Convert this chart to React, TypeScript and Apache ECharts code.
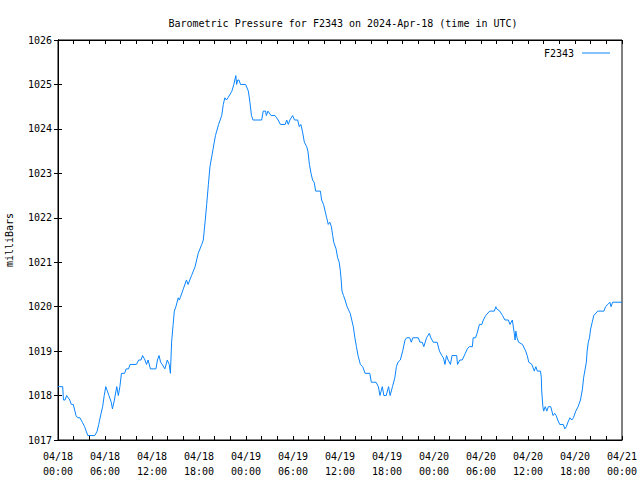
import React, { useEffect, useRef } from "react";
import * as echarts from "echarts";

// hours since 2024-04-18 00:00 UTC
const hours = [
  0.0, 0.6, 0.7, 0.9, 1.1, 1.5, 1.7, 1.95, 2.3, 2.5, 2.8, 3.1, 3.4, 3.6, 3.8, 4.7, 5.0, 5.2, 5.5, 5.7,
  5.9, 6.1, 6.3, 6.5, 6.8, 6.95, 7.2, 7.5, 7.7, 7.9, 8.1, 8.5, 8.7, 9.0, 9.2, 10.0, 10.3, 10.6, 10.8, 11.1,
  11.3, 11.5, 11.8, 12.5, 12.7, 12.9, 13.1, 13.3, 13.65, 13.95, 14.2, 14.35, 14.5, 14.7, 14.85, 15.05, 15.35, 15.5, 15.6, 16.0,
  16.4, 16.6, 17.05, 17.5, 17.9, 18.35, 18.55, 18.8, 18.98, 19.2, 19.4, 19.8, 20.1, 20.5, 20.9, 21.1, 21.3, 21.5, 21.7, 22.2,
  22.45, 22.7, 22.8, 22.95, 23.1, 23.3, 23.95, 24.3, 24.5, 24.7, 24.9, 26.0, 26.2, 26.5, 26.6, 26.8, 27.2, 27.7, 28.1, 28.4,
  29.0, 29.2, 29.4, 29.6, 29.95, 30.2, 30.6, 30.8, 31.0, 31.2, 31.45, 31.75, 31.9, 32.1, 32.3, 32.5, 32.7, 32.9, 33.5, 33.65,
  33.9, 34.1, 34.3, 34.5, 34.7, 34.9, 35.07, 35.2, 35.5, 35.7, 35.9, 36.05, 36.15, 36.25, 36.45, 36.65, 36.9, 37.3, 37.5, 37.7,
  37.9, 38.1, 38.3, 38.6, 38.9, 39.2, 39.8, 40.0, 40.6, 40.9, 41.1, 41.4, 41.6, 41.9, 42.2, 42.4, 42.7, 43.0, 43.2, 43.4,
  43.7, 44.0, 44.3, 44.5, 44.9, 45.1, 45.3, 46.0, 46.2, 46.5, 46.7, 47.05, 47.4, 47.6, 47.9, 48.4, 48.7, 49.0, 49.2, 49.4,
  49.6, 49.8, 50.1, 50.3, 50.9, 51.0, 51.3, 51.6, 52.0, 52.25, 52.5, 52.9, 53.0, 53.3, 53.5, 53.8, 54.1, 54.3, 54.6, 55.1,
  55.7, 55.9, 56.0, 56.4, 56.75, 57.05, 57.5, 57.7, 58.0, 58.25, 58.35, 58.45, 58.6, 58.8, 59.3, 59.7, 59.9, 60.1, 60.5, 60.8,
  61.0, 61.2, 61.6, 61.7, 61.75, 61.9, 62.0, 62.2, 62.4, 62.6, 62.9, 63.2, 63.4, 63.6, 63.8, 64.05, 64.5, 64.7, 64.9, 65.1,
  65.35, 65.6, 65.8, 66.1, 66.4, 66.7, 66.95, 67.1, 67.3, 67.45, 67.55, 67.7, 67.85, 68.0, 68.2, 68.4, 68.9, 69.7, 69.9, 70.2,
  70.45, 70.6, 70.8, 72.0,
];

const pressure = [
  1018.2, 1018.2, 1017.9, 1017.9, 1018.0, 1017.9, 1017.8, 1017.8, 1017.55, 1017.5, 1017.5, 1017.4, 1017.3, 1017.2, 1017.1, 1017.1, 1017.2, 1017.35, 1017.6, 1017.75,
  1018.0, 1018.2, 1018.1, 1018.0, 1017.85, 1017.7, 1017.9, 1018.2, 1018.0, 1018.2, 1018.5, 1018.5, 1018.6, 1018.6, 1018.7, 1018.7, 1018.8, 1018.8, 1018.9, 1018.8,
  1018.7, 1018.8, 1018.6, 1018.6, 1018.8, 1018.9, 1018.75, 1018.7, 1018.6, 1018.8, 1018.7, 1018.5, 1019.2, 1019.6, 1019.9, 1020.0, 1020.2, 1020.15, 1020.2, 1020.4,
  1020.6, 1020.5, 1020.7, 1020.9, 1021.2, 1021.4, 1021.5, 1021.95, 1022.3, 1022.75, 1023.15, 1023.55, 1023.85, 1024.1, 1024.3, 1024.55, 1024.7, 1024.65, 1024.7, 1024.85,
  1025.0, 1025.2, 1025.0, 1025.1, 1025.1, 1025.0, 1025.0, 1024.85, 1024.6, 1024.3, 1024.2, 1024.2, 1024.4, 1024.4, 1024.3, 1024.4, 1024.3, 1024.3, 1024.2, 1024.1,
  1024.1, 1024.2, 1024.1, 1024.2, 1024.3, 1024.2, 1024.2, 1024.05, 1024.1, 1023.95, 1023.7, 1023.6, 1023.5, 1023.2, 1023.0, 1022.85, 1022.8, 1022.6, 1022.6, 1022.4,
  1022.3, 1022.15, 1022.0, 1021.85, 1021.9, 1021.8, 1021.6, 1021.45, 1021.3, 1021.1, 1021.0, 1020.8, 1020.6, 1020.35, 1020.25, 1020.15, 1020.0, 1019.85, 1019.7, 1019.55,
  1019.3, 1019.1, 1018.9, 1018.7, 1018.65, 1018.5, 1018.5, 1018.3, 1018.3, 1018.2, 1018.0, 1018.2, 1018.0, 1018.0, 1018.2, 1018.0, 1018.2, 1018.4, 1018.65, 1018.75,
  1018.8, 1019.0, 1019.25, 1019.3, 1019.3, 1019.2, 1019.3, 1019.3, 1019.2, 1019.2, 1019.1, 1019.3, 1019.4, 1019.3, 1019.2, 1019.2, 1019.0, 1018.9, 1018.85, 1018.7,
  1018.9, 1018.8, 1018.7, 1018.9, 1018.9, 1018.7, 1018.8, 1018.8, 1018.95, 1019.05, 1019.1, 1019.1, 1019.3, 1019.3, 1019.4, 1019.6, 1019.6, 1019.7, 1019.8, 1019.9,
  1019.9, 1020.0, 1019.95, 1019.9, 1019.8, 1019.7, 1019.7, 1019.6, 1019.7, 1019.4, 1019.25, 1019.45, 1019.3, 1019.2, 1019.15, 1019.0, 1018.9, 1018.75, 1018.7, 1018.55,
  1018.65, 1018.55, 1018.55, 1018.4, 1018.1, 1017.75, 1017.65, 1017.75, 1017.65, 1017.75, 1017.75, 1017.55, 1017.6, 1017.55, 1017.45, 1017.35, 1017.35, 1017.25, 1017.3, 1017.4,
  1017.5, 1017.45, 1017.5, 1017.65, 1017.75, 1017.9, 1018.15, 1018.4, 1018.6, 1018.75, 1019.0, 1019.2, 1019.3, 1019.5, 1019.65, 1019.8, 1019.9, 1019.9, 1020.0, 1020.05,
  1020.1, 1020.0, 1020.1, 1020.1,
];

const seriesName = "F2343";
const titleText = "Barometric Pressure for F2343 on 2024-Apr-18 (time in UTC)";
const yAxisTitle = "milliBars";
const startDay = 18;
const monthLabel = "04";

const FONT = "'DejaVu Sans Mono', 'Liberation Mono', monospace";

function fmtHour(h: number): string {
  const day = startDay + Math.floor(h / 24);
  const hh = Math.round(h % 24);
  const hs = hh < 10 ? "0" + hh : "" + hh;
  return monthLabel + "/" + day + "\n" + hs + ":00";
}

export default function App() {
  const ref = useRef<HTMLDivElement>(null);
  useEffect(() => {
    if (!ref.current) return;
    const chart = echarts.init(ref.current, undefined, { renderer: "svg" });
    const data = hours.map((h, i) => [h, pressure[i]]);
    const common = {
      type: "value" as const,
      min: 0,
      max: 72,
      interval: 6,
    };
    chart.setOption({
      animation: false,
      backgroundColor: "#ffffff",
      textStyle: { fontFamily: FONT },
      title: {
        text: titleText,
        left: 338,
        top: 13,
        textAlign: "center",
        textStyle: { fontFamily: FONT, fontSize: 10, fontWeight: "normal", color: "#000" },
      },
      legend: {
        data: [seriesName],
        right: 25,
        top: 43,
        align: "right",
        icon: "rect",
        itemWidth: 28,
        itemHeight: 1,
        itemGap: 6,
        textStyle: { fontFamily: FONT, fontSize: 10, color: "#000", padding: [0, 3, 0, 0] },
      },
      grid: {
        left: 58,
        right: 18,
        top: 40,
        bottom: 40,
        containLabel: false,
        outerBoundsMode: "none",
        show: true,
        borderColor: "#000",
        borderWidth: 1,
        backgroundColor: "transparent",
      },
      xAxis: [
        {
          ...common,
          position: "bottom",
          axisLine: { show: true, lineStyle: { color: "#000", width: 1 } },
          axisTick: { show: true, inside: true, length: 4, lineStyle: { color: "#000" } },
          minorTick: { show: true, splitNumber: 3, length: 4, lineStyle: { color: "#000" } },
          splitLine: { show: false },
          axisLabel: {
            formatter: (v: number) => fmtHour(v),
            fontFamily: FONT,
            fontSize: 10,
            color: "#000",
            margin: 9,
            lineHeight: 15,
            showMinLabel: true,
            showMaxLabel: true,
          },
        },
        {
          ...common,
          position: "top",
          axisLine: { show: true, lineStyle: { color: "#000", width: 1 } },
          axisTick: { show: true, inside: true, length: 4, lineStyle: { color: "#000" } },
          minorTick: { show: true, splitNumber: 3, length: 4, lineStyle: { color: "#000" } },
          splitLine: { show: false },
          axisLabel: { show: false },
        },
      ],
      yAxis: [
        {
          type: "value",
          min: 1017,
          max: 1026,
          interval: 1,
          position: "left",
          name: yAxisTitle,
          nameLocation: "middle",
          nameGap: 44,
          nameRotate: 90,
          nameTextStyle: { fontFamily: FONT, fontSize: 10, color: "#000" },
          axisLine: { show: true, lineStyle: { color: "#000", width: 1 } },
          axisTick: { show: true, inside: true, length: 4, lineStyle: { color: "#000" } },
          splitLine: { show: false },
          axisLabel: {
            fontFamily: FONT,
            fontSize: 10,
            color: "#000",
            margin: 6,
            formatter: (v: number) => String(Math.round(v)),
          },
        },
        {
          type: "value",
          min: 1017,
          max: 1026,
          interval: 1,
          position: "right",
          axisLine: { show: true, lineStyle: { color: "#000", width: 1 } },
          axisTick: { show: true, inside: true, length: 4, lineStyle: { color: "#000" } },
          splitLine: { show: false },
          axisLabel: { show: false },
        },
      ],
      series: [
        {
          name: seriesName,
          type: "line",
          xAxisIndex: 0,
          yAxisIndex: 0,
          data,
          showSymbol: false,
          symbol: "none",
          lineStyle: { color: "#0a84ff", width: 1 },
          itemStyle: { color: "#0a84ff" },
        },
      ],
    });
    return () => chart.dispose();
  }, []);
  return <div ref={ref} style={{ width: 640, height: 480, position: "absolute", left: 0, top: 0 }} />;
}
